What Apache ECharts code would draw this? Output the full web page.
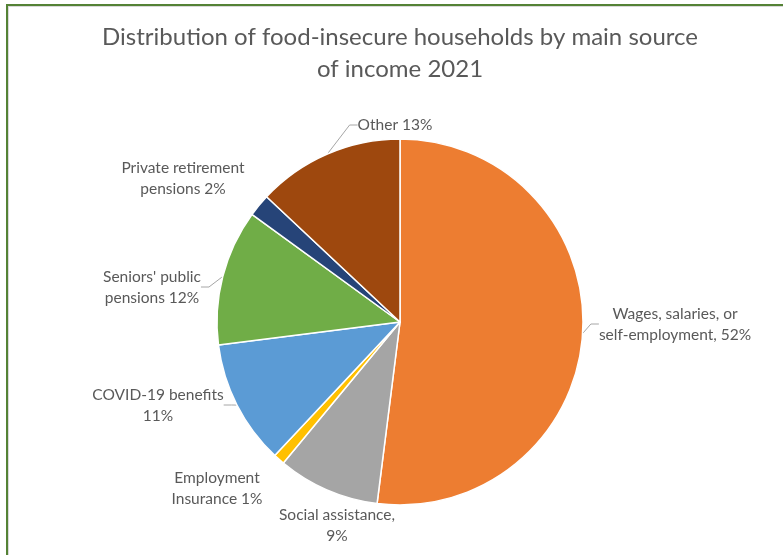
<!DOCTYPE html>
<html>
<head>
<meta charset="utf-8">
<script src="https://cdn.jsdelivr.net/npm/echarts@6/dist/echarts.min.js"></script>
<style>
  html, body { margin: 0; padding: 0; width: 783px; height: 555px; overflow: hidden; background: #ffffff; }
  #frame { position: absolute; left: 6px; top: 4px; width: 800px; height: 600px;
           border-top: 2px solid #548235; border-left: 2px solid #548235; }
  #chart { position: absolute; left: 0; top: 0; width: 782px; height: 590px;
           border-top: 1px solid #D9D9D9; border-left: 1px solid #D9D9D9; }
</style>
</head>
<body>
<div id="frame"><div id="chart"></div></div>
<script>
// Main income source of food-insecure households, 2021 (percent of households)
const sources = [
  'Wages, salaries, or self-employment',
  'Social assistance',
  'Employment Insurance',
  'COVID-19 benefits',
  "Seniors' public pensions",
  'Private retirement pensions',
  'Other'
];
const shares = [52, 9, 1, 11, 12, 2, 13];
const labelTexts = [
  'Wages, salaries, or\nself-employment, 52%',
  'Social assistance,\n9%',
  'Employment\nInsurance 1%',
  'COVID-19 benefits\n11%',
  "Seniors' public\npensions 12%",
  'Private retirement\npensions 2%',
  'Other 13%'
];
const sliceColors = ['#ED7D31', '#A5A5A5', '#FFC000', '#5B9BD5', '#70AD47', '#264478', '#9E480E'];

// Hand-placed label anchors (text centre, chart pixels), one per slice
const labelSpots = [
  [666, 317], [328, 518], [208, 481], [149, 398], [143, 280], [174, 171], [386, 118]
];
// Slices whose label sits without a leader line
const noLeader = [1, 2, 5];

const chart = echarts.init(document.getElementById('chart'));
chart.setOption({
  animation: false,
  backgroundColor: '#ffffff',
  title: {
    text: 'Distribution of food-insecure households by main source\nof income 2021',
    left: 'center',
    top: 9,
    textStyle: {
      fontFamily: 'Lato',
      fontSize: 24,
      fontWeight: 'normal',
      color: '#595959',
      lineHeight: 32
    }
  },
  color: sliceColors,
  series: [{
    type: 'pie',
    center: [391, 315],
    radius: 183,
    startAngle: 90,
    clockwise: true,
    avoidLabelOverlap: false,
    itemStyle: { borderColor: '#ffffff', borderWidth: 1.5 },
    label: {
      show: true,
      position: 'outside',
      fontFamily: 'Lato',
      fontSize: 15.5,
      color: '#595959',
      lineHeight: 21,
      formatter: p => labelTexts[p.dataIndex]
    },
    labelLine: {
      show: true,
      length: 8,
      length2: 8,
      lineStyle: { color: '#A6A6A6', width: 1 }
    },
    labelLayout: params => {
      const s = labelSpots[params.dataIndex];
      return { x: s[0], y: s[1], align: 'center', verticalAlign: 'middle' };
    },
    emphasis: { disabled: true },
    data: sources.map((name, i) => ({
      name: name,
      value: shares[i],
      labelLine: { show: noLeader.indexOf(i) < 0 }
    }))
  }]
});
</script>
</body>
</html>
